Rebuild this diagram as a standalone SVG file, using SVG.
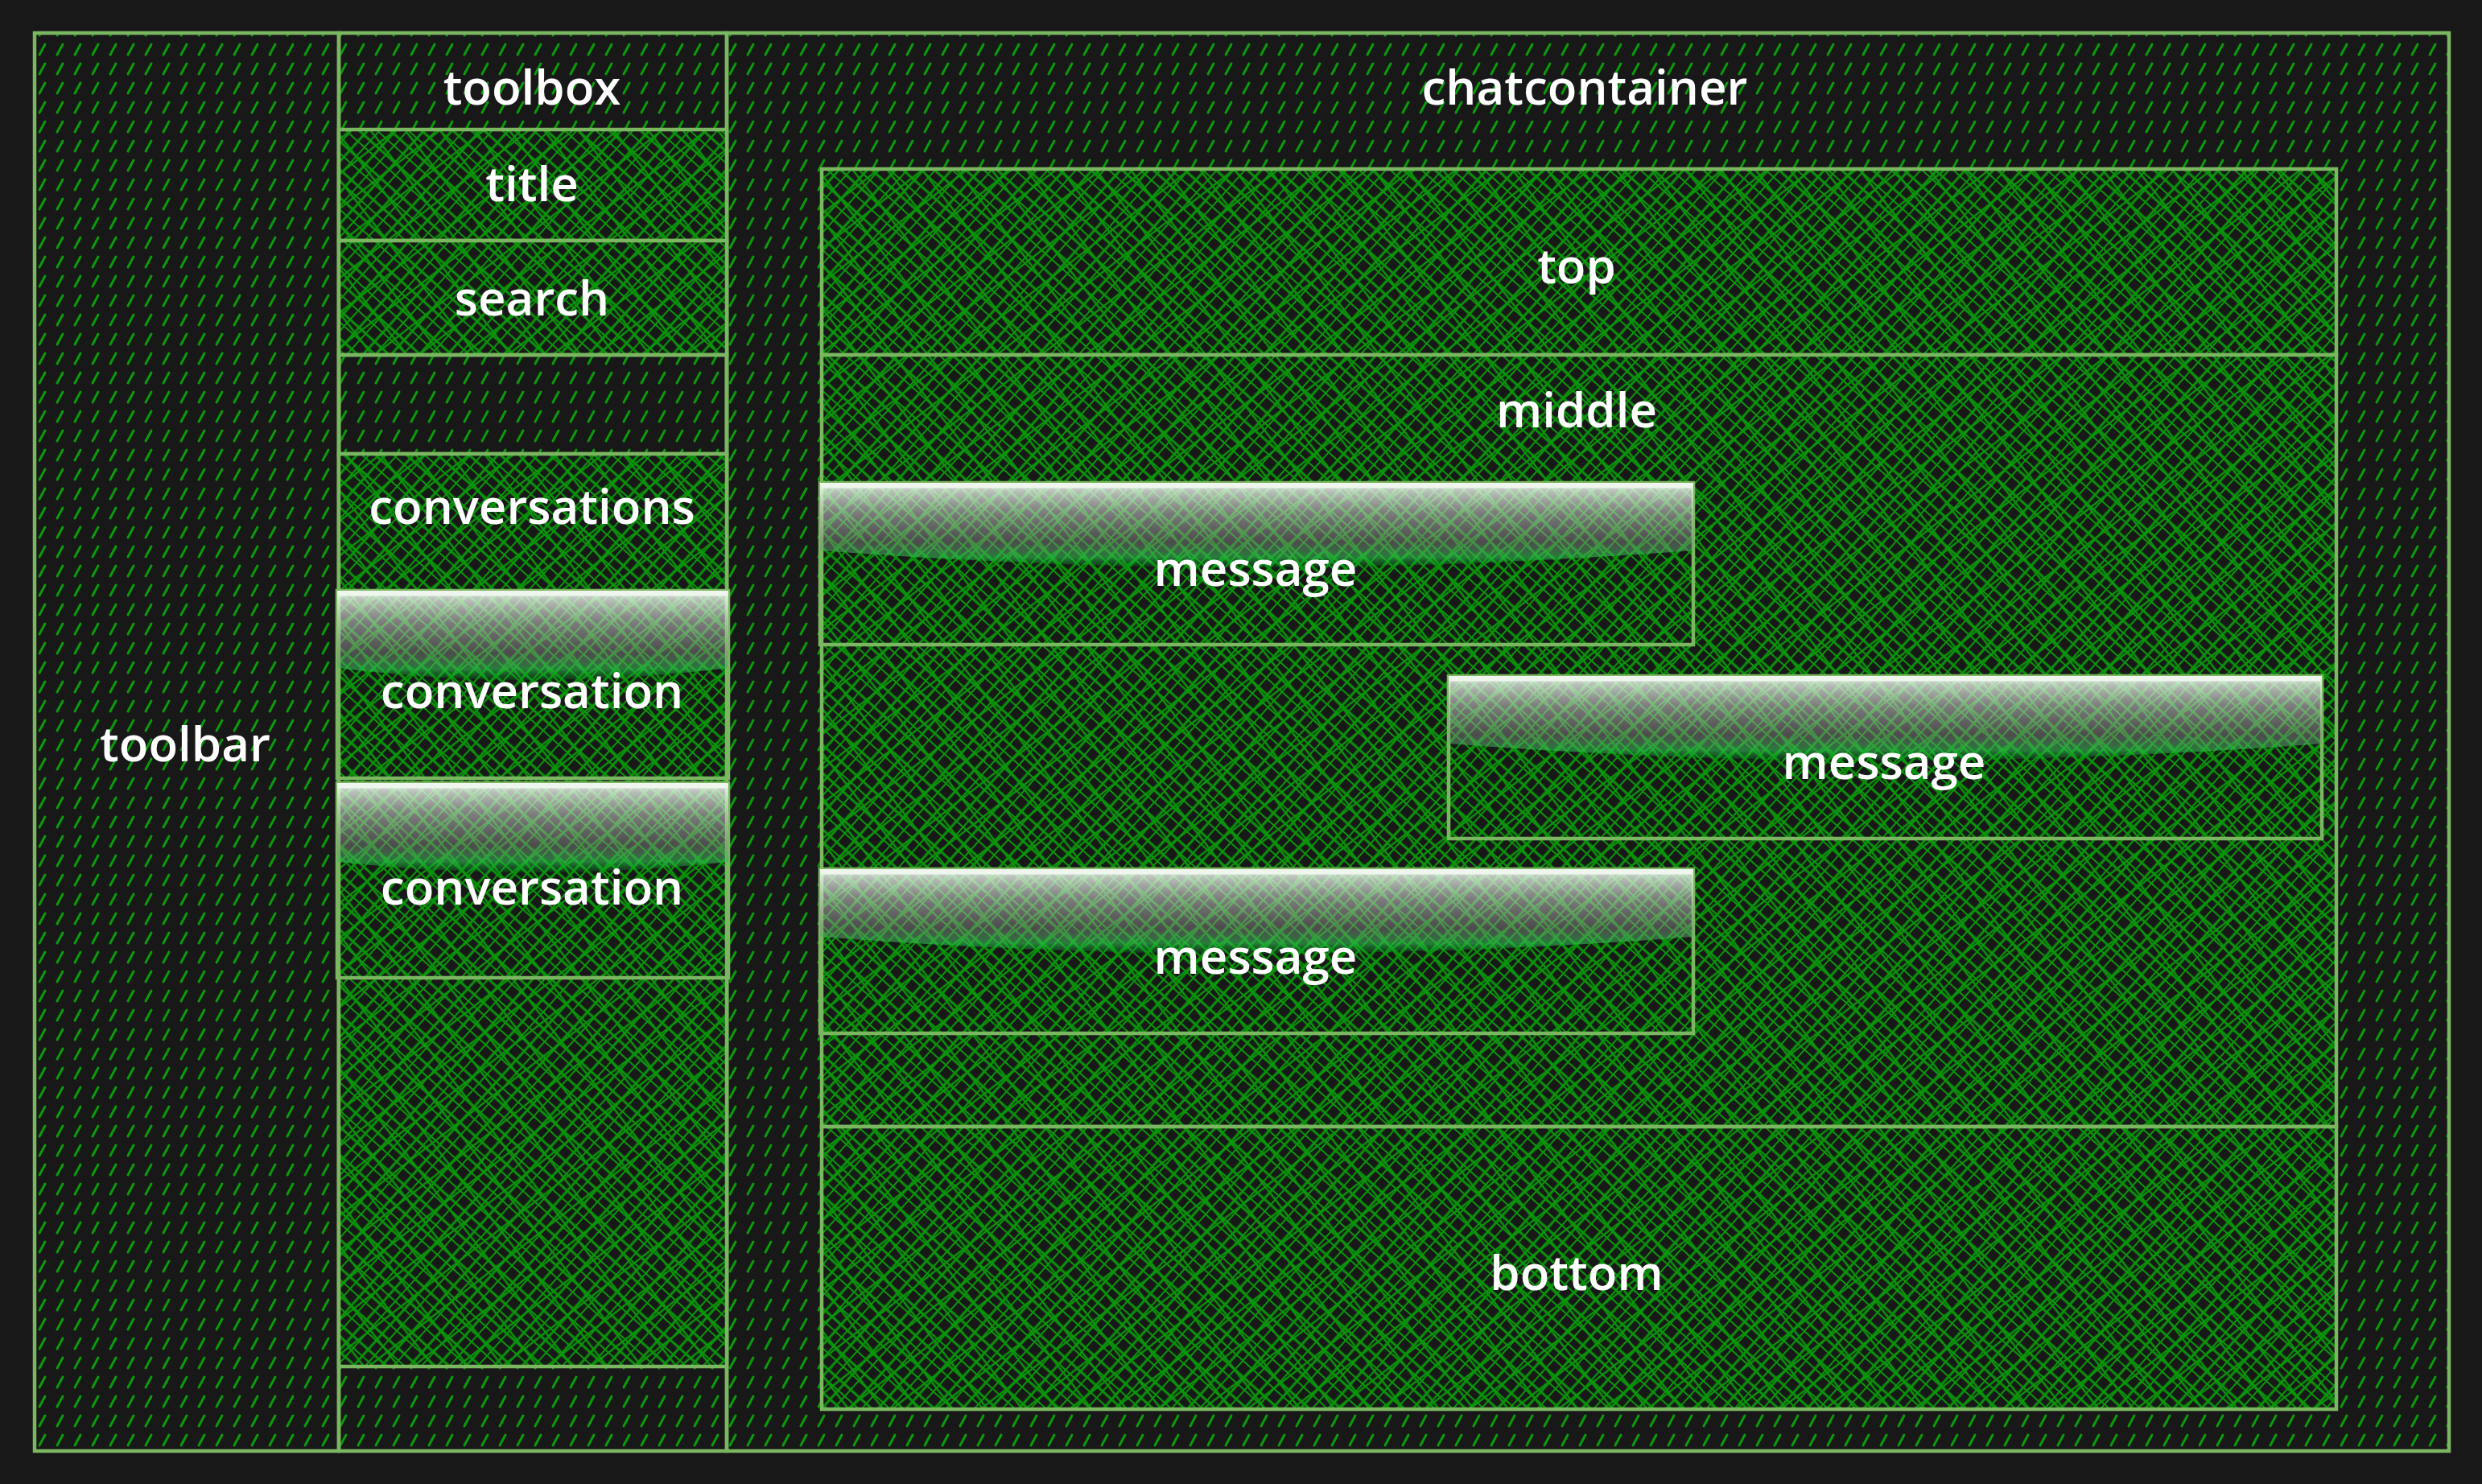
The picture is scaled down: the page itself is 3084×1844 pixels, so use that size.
<svg xmlns="http://www.w3.org/2000/svg" width="3084" height="1844" viewBox="0 0 3084 1844">
<defs>
<pattern id="dash" width="22" height="24" patternUnits="userSpaceOnUse">
<line x1="5" y1="20" x2="12" y2="7" stroke="#0a9a0a" stroke-width="3" stroke-linecap="round"/>
</pattern>
<pattern id="hA" width="26" height="26" patternUnits="userSpaceOnUse" patternTransform="rotate(42)">
<line x1="0" y1="4" x2="26" y2="4" stroke="#0a960a" stroke-width="3"/>
<line x1="0" y1="15" x2="26" y2="15" stroke="#0a960a" stroke-width="2"/>
<line x1="6" y1="0" x2="6" y2="26" stroke="#0a960a" stroke-width="3"/>
<line x1="17" y1="0" x2="17" y2="26" stroke="#0a960a" stroke-width="2"/>
</pattern>
<pattern id="hB" width="34" height="34" patternUnits="userSpaceOnUse" patternTransform="rotate(52)">
<line x1="0" y1="9" x2="34" y2="9" stroke="#0a960a" stroke-width="2.4"/>
<line x1="22" y1="0" x2="22" y2="34" stroke="#0a960a" stroke-width="2.4"/>
</pattern>
<linearGradient id="gloss" x1="0" y1="0" x2="0" y2="1">
<stop offset="0" stop-color="#ffffff" stop-opacity="0.9"/>
<stop offset="0.1" stop-color="#eef8ee" stop-opacity="0.75"/>
<stop offset="0.35" stop-color="#d0d0d0" stop-opacity="0.55"/>
<stop offset="0.7" stop-color="#8c8c8c" stop-opacity="0.45"/>
<stop offset="0.88" stop-color="#30c050" stop-opacity="0.6"/>
<stop offset="1" stop-color="#00a020" stop-opacity="0.2"/>
</linearGradient>
<style>
.bx{stroke:#7bb661;stroke-width:4.5;fill:none}
.dash{fill:url(#dash)}
.hA{fill:url(#hA)}
.hB{fill:url(#hB)}
.lbl{font-family:"Open Sans","Liberation Sans",sans-serif;font-size:60px;font-weight:600;fill:#ffffff;text-anchor:middle;dominant-baseline:middle}
.hl{stroke:#eef6ee;stroke-width:5}
</style>
</defs>
<rect width="3084" height="1844" fill="#181818"/>

<g id="toolbar">
<rect x="43" y="41" width="378" height="1762" class="dash"/>
<rect x="43" y="41" width="378" height="1762" class="bx"/>
<text x="230" y="930" class="lbl">toolbar</text>
</g>

<g id="toolbox">
<rect x="421" y="41" width="482" height="1762" class="dash"/>
<rect x="421" y="41" width="482" height="1762" class="bx"/>
<text x="661" y="114" class="lbl">toolbox</text>
</g>

<g id="chatcontainer">
<rect x="903" y="41" width="2140" height="1762" class="dash"/>
<rect x="903" y="41" width="2140" height="1762" class="bx"/>
<text x="1969" y="114" class="lbl">chatcontainer</text>
</g>

<g id="title">
<rect x="421" y="161" width="482" height="138" fill="#181818"/>
<rect x="421" y="161" width="482" height="138" class="hA"/>
<rect x="421" y="161" width="482" height="138" class="hB"/>
<rect x="421" y="161" width="482" height="138" class="bx"/>
<text x="661" y="234" class="lbl">title</text>
</g>

<g id="search">
<rect x="421" y="299" width="482" height="142" fill="#181818"/>
<rect x="421" y="299" width="482" height="142" class="hA"/>
<rect x="421" y="299" width="482" height="142" class="hB"/>
<rect x="421" y="299" width="482" height="142" class="bx"/>
<text x="661" y="376" class="lbl">search</text>
</g>

<g id="spacer">
<rect x="421" y="441" width="482" height="123" class="bx"/>
</g>

<g id="conversations">
<rect x="421" y="564" width="482" height="1134" fill="#181818"/>
<rect x="421" y="564" width="482" height="1134" class="hA"/>
<rect x="421" y="564" width="482" height="1134" class="hB"/>
<rect x="421" y="564" width="482" height="1134" class="bx"/>
<text x="661" y="635" class="lbl">conversations</text>
</g>

<g id="conversation1">
<rect x="419" y="734" width="486" height="233" class="bx"/>
<path d="M419 734 H905 V830 Q662 860 419 830 Z" fill="url(#gloss)"/>
<line x1="421" y1="738" x2="903" y2="738" class="hl"/>
<text x="661" y="864" class="lbl">conversation</text>
</g>

<g id="conversation2">
<rect x="419" y="973" width="486" height="242" class="bx"/>
<path d="M419 973 H905 V1071 Q662 1097 419 1071 Z" fill="url(#gloss)"/>
<line x1="421" y1="977" x2="903" y2="977" class="hl"/>
<text x="661" y="1108" class="lbl">conversation</text>
</g>

<g id="top">
<rect x="1021" y="210" width="1882" height="231" fill="#181818"/>
<rect x="1021" y="210" width="1882" height="231" class="hA"/>
<rect x="1021" y="210" width="1882" height="231" class="hB"/>
<rect x="1021" y="210" width="1882" height="231" class="bx"/>
<text x="1959" y="336" class="lbl">top</text>
</g>

<g id="middle">
<rect x="1021" y="441" width="1882" height="959" fill="#181818"/>
<rect x="1021" y="441" width="1882" height="959" class="hA"/>
<rect x="1021" y="441" width="1882" height="959" class="hB"/>
<rect x="1021" y="441" width="1882" height="959" class="bx"/>
<text x="1959" y="515" class="lbl">middle</text>
</g>

<g id="message1">
<rect x="1019" y="600" width="1085" height="201" class="bx"/>
<path d="M1019 600 H2104 V684 Q1561 726 1019 684 Z" fill="url(#gloss)"/>
<line x1="1021" y1="604" x2="2102" y2="604" class="hl"/>
<text x="1560" y="712" class="lbl">message</text>
</g>

<g id="message2">
<rect x="1800" y="840" width="1085" height="202" class="bx"/>
<path d="M1800 840 H2885 V924 Q2342 966 1800 924 Z" fill="url(#gloss)"/>
<line x1="1802" y1="844" x2="2883" y2="844" class="hl"/>
<text x="2341" y="952" class="lbl">message</text>
</g>

<g id="message3">
<rect x="1019" y="1080" width="1085" height="204" class="bx"/>
<path d="M1019 1080 H2104 V1164 Q1561 1206 1019 1164 Z" fill="url(#gloss)"/>
<line x1="1021" y1="1084" x2="2102" y2="1084" class="hl"/>
<text x="1560" y="1194" class="lbl">message</text>
</g>

<g id="bottom">
<rect x="1021" y="1400" width="1882" height="351" fill="#181818"/>
<rect x="1021" y="1400" width="1882" height="351" class="hA"/>
<rect x="1021" y="1400" width="1882" height="351" class="hB"/>
<rect x="1021" y="1400" width="1882" height="351" class="bx"/>
<text x="1959" y="1587" class="lbl">bottom</text>
</g>

<g id="connectors"/>
</svg>
